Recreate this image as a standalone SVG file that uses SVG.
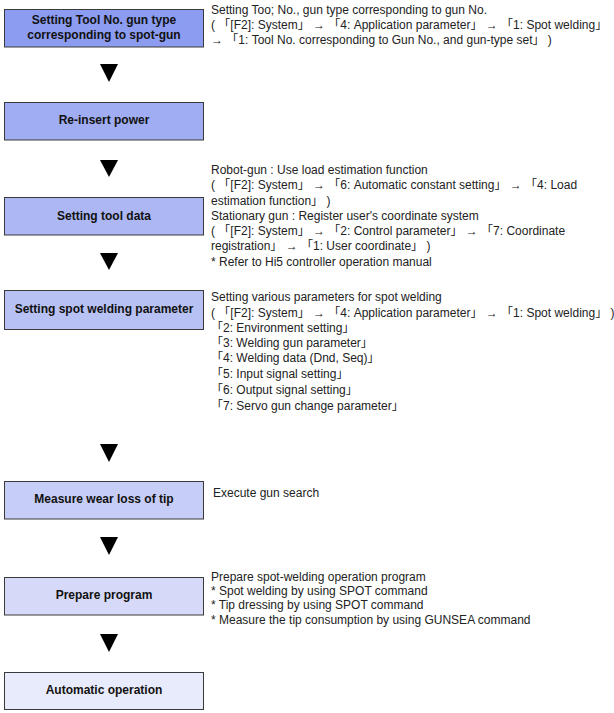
<svg xmlns="http://www.w3.org/2000/svg" width="614" height="713" viewBox="0 0 614 713">
<style>
.box{stroke:#3a3a3a;stroke-width:1}
.lbl{font-family:"Liberation Sans","Noto Sans CJK JP",sans-serif;font-size:12px;font-weight:bold;fill:#111;text-anchor:middle}
.note{font-family:"Liberation Sans","Noto Sans CJK JP",sans-serif;font-size:12px;fill:#222}
.arr{fill:#000}
</style>
<rect width="614" height="713" fill="#fff"/>
<g id="connectors">
<polygon class="arr" points="100,64 118,64 109,82"/>
<polygon class="arr" points="100,160 118,160 109,177"/>
<polygon class="arr" points="100,253 118,253 109,270"/>
<polygon class="arr" points="100,444 118,444 109,462"/>
<polygon class="arr" points="100,537 118,537 109,555"/>
<polygon class="arr" points="100,634 118,634 109,652"/>
</g>
<g id="n1">
<rect class="box" x="4.5" y="9.5" width="199" height="37.5" fill="#8c9cf0"/>
<text class="lbl" x="104" y="24">Setting Tool No. gun type</text>
<text class="lbl" x="104" y="39">corresponding to spot-gun</text>
</g>
<g id="n2">
<rect class="box" x="4.5" y="102.5" width="199" height="37.5" fill="#a0adf2"/>
<text class="lbl" x="104" y="124">Re-insert power</text>
</g>
<g id="n3">
<rect class="box" x="4.5" y="197.5" width="199" height="37.5" fill="#acb7f3"/>
<text class="lbl" x="104" y="219.5">Setting tool data</text>
</g>
<g id="n4">
<rect class="box" x="4.5" y="290.5" width="199" height="39" fill="#b8c1f4"/>
<text class="lbl" x="104" y="313">Setting spot welding parameter</text>
</g>
<g id="n5">
<rect class="box" x="4.5" y="481.5" width="199" height="37.5" fill="#c6cdf6"/>
<text class="lbl" x="104" y="502.5">Measure wear loss of tip</text>
</g>
<g id="n6">
<rect class="box" x="4.5" y="577.5" width="199" height="37.5" fill="#d6daf8"/>
<text class="lbl" x="104" y="599">Prepare program</text>
</g>
<g id="n7">
<rect class="box" x="4.5" y="672.5" width="199" height="37" fill="#e8ebfb"/>
<text class="lbl" x="104" y="694">Automatic operation</text>
</g>
<g id="notes">
<text class="note" x="211" y="14">Setting Too; No., gun type corresponding to gun No.</text>
<text class="note" x="211" y="29">( 「[F2]: System」 → 「4: Application parameter」 → 「1: Spot welding」</text>
<text class="note" x="211" y="44">→ 「1: Tool No. corresponding to Gun No., and gun-type set」 )</text>
<text class="note" x="211" y="174">Robot-gun : Use load estimation function</text>
<text class="note" x="211" y="189">( 「[F2]: System」 → 「6: Automatic constant setting」 → 「4: Load</text>
<text class="note" x="211" y="205">estimation function」 )</text>
<text class="note" x="211" y="220">Stationary gun : Register user's coordinate system</text>
<text class="note" x="211" y="235">( 「[F2]: System」 → 「2: Control parameter」 → 「7: Coordinate</text>
<text class="note" x="211" y="250">registration」 → 「1: User coordinate」 )</text>
<text class="note" x="211" y="266">* Refer to Hi5 controller operation manual</text>
<text class="note" x="211" y="301">Setting various parameters for spot welding</text>
<text class="note" x="211" y="317">( 「[F2]: System」 → 「4: Application parameter」 → 「1: Spot welding」 )</text>
<text class="note" x="211" y="332">「2: Environment setting」</text>
<text class="note" x="211" y="347">「3: Welding gun parameter」</text>
<text class="note" x="211" y="362">「4: Welding data (Dnd, Seq)」</text>
<text class="note" x="211" y="378">「5: Input signal setting」</text>
<text class="note" x="211" y="394">「6: Output signal setting」</text>
<text class="note" x="211" y="410">「7: Servo gun change parameter」</text>
<text class="note" x="213" y="497">Execute gun search</text>
<text class="note" x="211" y="581">Prepare spot-welding operation program</text>
<text class="note" x="211" y="595">* Spot welding by using SPOT command</text>
<text class="note" x="211" y="609">* Tip dressing by using SPOT command</text>
<text class="note" x="211" y="624">* Measure the tip consumption by using GUNSEA command</text>
</g>
</svg>
